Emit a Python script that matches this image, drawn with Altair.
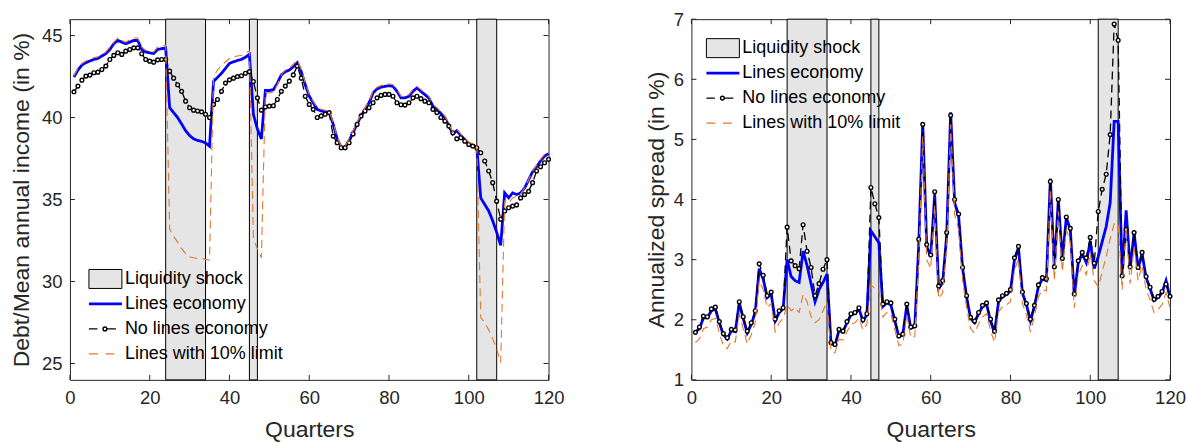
import altair as alt
import pandas as pd

# ---------------- data ----------------
quarters = list(range(1, 121))
shock_start = [24, 45, 102]
shock_end = [34, 47, 107]

debt_lines = [
    42.47, 42.90, 43.20, 43.35, 43.45, 43.55, 43.60, 43.75, 43.90, 44.15,
    44.50, 44.70, 44.60, 44.50, 44.60, 44.70, 44.70, 44.15, 44.00, 43.95,
    43.90, 44.15, 44.20, 44.25, 40.60, 40.30, 40.00, 39.60, 39.20, 38.90,
    38.70, 38.60, 38.55, 38.45, 38.25, 42.20, 42.45, 42.70, 43.00, 43.30,
    43.40, 43.48, 43.55, 43.68, 43.85, 40.20, 39.30, 38.70, 41.65, 41.65,
    41.70, 42.10, 42.60, 42.80, 42.90, 43.10, 43.35, 42.80, 42.00, 41.30,
    40.90, 40.50, 40.40, 40.35, 40.30, 39.60, 38.70, 38.20, 38.20, 38.60,
    39.10, 39.60, 40.10, 40.50, 40.90, 41.50, 41.75, 41.85, 41.90, 41.95,
    41.90, 41.60, 41.20, 41.20, 41.30, 41.60, 41.80, 41.60, 41.40, 41.20,
    40.70, 40.50, 40.25, 40.00, 39.50, 39.00, 39.20, 38.90, 38.65, 38.40,
    38.30, 38.20, 35.10, 34.70, 34.30, 33.70, 33.00, 32.20, 35.40, 35.10,
    35.40, 35.30, 35.40, 35.70, 36.20, 36.70, 37.00, 37.35, 37.65, 37.80,
]
debt_nolines = [
    41.57, 41.92, 42.28, 42.53, 42.59, 42.73, 42.77, 42.93, 43.14, 43.54,
    43.79, 43.95, 43.85, 44.05, 44.15, 44.25, 44.25, 43.89, 43.54, 43.44,
    43.38, 43.52, 43.54, 43.55, 42.83, 42.40, 42.00, 41.60, 41.00, 40.60,
    40.45, 40.40, 40.35, 40.20, 40.00, 40.80, 41.10, 41.60, 42.10, 42.30,
    42.40, 42.50, 42.55, 42.70, 42.80, 42.20, 41.20, 40.45, 40.65, 40.70,
    40.72, 41.10, 41.60, 41.92, 42.22, 42.60, 43.14, 42.40, 41.30, 40.80,
    40.50, 40.00, 40.10, 40.20, 40.30, 38.87, 38.46, 38.16, 38.16, 38.46,
    39.00, 39.58, 40.10, 40.40, 40.60, 40.90, 41.20, 41.35, 41.41, 41.41,
    41.30, 40.90, 40.78, 40.76, 40.90, 41.20, 41.30, 41.15, 41.00, 40.90,
    40.50, 40.30, 40.00, 39.78, 39.48, 39.07, 38.70, 38.77, 38.56, 38.36,
    38.26, 38.16, 37.85, 37.35, 36.74, 36.03, 34.90, 33.80, 34.30, 34.50,
    34.60, 34.67, 35.10, 35.30, 35.50, 36.03, 36.74, 37.00, 37.24, 37.45,
]
debt_limit = [
    42.55, 43.00, 43.30, 43.45, 43.55, 43.65, 43.70, 43.85, 44.00, 44.30,
    44.60, 44.85, 44.70, 44.60, 44.75, 44.85, 44.85, 44.30, 44.10, 44.05,
    44.00, 44.30, 44.35, 44.40, 33.20, 32.75, 32.40, 32.00, 31.70, 31.50,
    31.45, 31.40, 31.40, 31.35, 31.30, 42.50, 42.90, 43.20, 43.40, 43.60,
    43.70, 43.75, 43.80, 43.95, 44.05, 32.60, 32.00, 31.45, 41.55, 41.50,
    41.55, 42.00, 42.60, 42.90, 43.00, 43.25, 43.50, 42.95, 42.10, 41.40,
    41.00, 40.60, 40.50, 40.45, 40.40, 39.70, 38.80, 38.25, 38.25, 38.70,
    39.20, 39.70, 40.20, 40.60, 41.00, 41.60, 41.85, 41.95, 42.00, 42.05,
    42.00, 41.70, 41.30, 41.30, 41.40, 41.70, 41.90, 41.70, 41.50, 41.30,
    40.80, 40.60, 40.35, 40.10, 39.60, 39.10, 39.30, 39.00, 38.75, 38.50,
    38.40, 38.30, 27.80, 27.50, 27.05, 26.50, 25.90, 25.05, 34.90, 34.80,
    35.10, 35.20, 35.35, 35.70, 36.20, 36.75, 37.10, 37.45, 37.75, 37.90,
]

spread_lines = [
    1.80, 1.85, 2.03, 2.03, 2.15, 2.18, 1.95, 1.75, 1.68, 1.82,
    1.80, 2.28, 2.02, 1.78, 1.92, 2.12, 2.85, 2.68, 2.37, 2.43,
    1.98, 2.12, 2.18, 3.00, 2.72, 2.65, 2.62, 3.14, 2.90, 2.60,
    2.30, 2.50, 2.62, 2.76, 1.60, 1.58, 1.82, 1.80, 1.95, 2.08,
    2.10, 2.18, 1.98, 2.08, 3.48, 3.38, 3.28, 2.22, 2.28, 2.25,
    1.98, 1.72, 1.75, 2.24, 1.86, 1.88, 3.25, 5.28, 3.22, 3.05,
    4.08, 2.52, 2.62, 3.40, 5.45, 3.95, 3.72, 2.85, 2.38, 2.02,
    1.95, 2.10, 2.22, 2.26, 1.98, 1.78, 2.30, 2.38, 2.42, 2.48,
    3.00, 3.20, 2.44, 2.25, 1.98, 2.22, 2.55, 2.68, 2.65, 4.35,
    2.85, 4.00, 3.00, 3.70, 3.50, 2.40, 2.95, 3.10, 2.95, 3.30,
    2.85, 3.05, 3.30, 3.55, 3.95, 5.30, 5.30, 2.70, 3.82, 2.85,
    3.45, 2.85, 3.10, 2.70, 2.52, 2.32, 2.37, 2.45, 2.65, 2.37,
]
spread_nolines = [
    1.79, 1.88, 2.06, 2.05, 2.18, 2.21, 1.97, 1.77, 1.70, 1.84,
    1.83, 2.30, 2.05, 1.81, 1.95, 2.15, 2.93, 2.74, 2.40, 2.46,
    2.01, 2.15, 2.20, 3.54, 2.98, 2.90, 2.85, 3.58, 3.14, 2.87,
    2.40, 2.60, 2.84, 3.00, 1.62, 1.59, 1.84, 1.81, 1.97, 2.10,
    2.12, 2.20, 2.00, 2.10, 4.20, 3.93, 3.70, 2.26, 2.30, 2.28,
    2.01, 1.73, 1.76, 2.26, 1.88, 1.90, 3.34, 5.25, 3.25, 3.08,
    4.13, 2.56, 2.65, 3.45, 5.40, 4.00, 3.76, 2.87, 2.40, 2.04,
    1.98, 2.12, 2.24, 2.28, 2.01, 1.81, 2.33, 2.40, 2.44, 2.50,
    3.03, 3.22, 2.46, 2.27, 2.01, 2.24, 2.58, 2.70, 2.68, 4.30,
    2.88, 4.00, 3.02, 3.71, 3.52, 2.43, 2.98, 3.12, 3.03, 3.37,
    2.94, 3.80, 4.17, 4.42, 5.08, 6.92, 6.65, 2.73, 3.50, 2.88,
    3.45, 2.87, 3.12, 2.72, 2.54, 2.34, 2.39, 2.47, 2.59, 2.39,
]
spread_limit = [
    1.62, 1.68, 1.85, 1.88, 2.00, 2.02, 1.78, 1.57, 1.52, 1.65,
    1.63, 2.10, 1.85, 1.60, 1.75, 1.95, 2.65, 2.50, 2.20, 2.27,
    1.80, 1.95, 2.02, 2.25, 2.15, 2.20, 2.12, 2.42, 2.30, 2.05,
    1.95, 2.00, 2.15, 2.30, 1.48, 1.45, 1.68, 1.66, 1.80, 1.93,
    1.95, 2.03, 1.83, 1.93, 2.58, 2.52, 2.50, 2.05, 2.12, 2.10,
    1.83, 1.57, 1.60, 2.08, 1.70, 1.72, 3.00, 5.05, 3.00, 2.85,
    3.90, 2.35, 2.45, 3.20, 5.25, 3.75, 3.50, 2.65, 2.20, 1.85,
    1.78, 1.93, 2.05, 2.10, 1.82, 1.62, 2.13, 2.22, 2.25, 2.30,
    2.82, 3.02, 2.27, 2.08, 1.80, 2.05, 2.38, 2.50, 2.48, 4.15,
    2.65, 3.80, 2.80, 3.50, 3.30, 2.20, 2.75, 2.90, 2.75, 3.10,
    2.65, 2.55, 2.80, 3.05, 3.35, 3.60, 3.60, 2.50, 3.55, 2.60,
    3.20, 2.65, 2.90, 2.50, 2.33, 2.12, 2.17, 2.25, 2.45, 2.20,
]

x_ticks = [0, 20, 40, 60, 80, 100, 120]
debt_ticks = [25, 30, 35, 40, 45]
spread_ticks = [1, 2, 3, 4, 5, 6, 7]

legend_labels = ["Liquidity shock", "Lines economy", "No lines economy", "Lines with 10% limit"]

# ---------------- style ----------------
W, H = 479, 361
FONT = "Liberation Sans"
AX = "#262626"
BLUE = "#0000ff"
ORANGE = "#e8772e"
SHADE = "#e5e5e5"
TICK = 18.5
TITLE = 23
DASH = [8, 5]


def panel(lines, nolines, limit, ydom, yticks, ytitle, lg_x, lg_y, title_pad):
    df = pd.DataFrame({"q": quarters, "lines": lines, "nolines": nolines, "limit": limit})
    shocks = pd.DataFrame({"s": shock_start, "e": shock_end})
    xs = alt.Scale(domain=[0, 120], nice=False, zero=False, padding=0)
    ys = alt.Scale(domain=ydom, nice=False, zero=False, padding=0)
    xaxis = alt.Axis(values=x_ticks, title="Quarters", labelPadding=9, titlePadding=11,
                     format="d", labelFlush=False, labelOverlap=False)
    yaxis = alt.Axis(values=yticks, title=ytitle, labelPadding=8, titlePadding=title_pad,
                     format="d", labelFlush=False, labelOverlap=False)

    rect = alt.Chart(shocks).mark_rect(fill=SHADE, stroke="black", strokeWidth=1).encode(
        x=alt.X("s:Q", scale=xs, axis=xaxis), x2="e:Q", y=alt.value(0), y2=alt.value(H)
    )
    base = alt.Chart(df).encode(x=alt.X("q:Q", scale=xs, axis=xaxis))
    blue = base.mark_line(color=BLUE, strokeWidth=2.8).encode(
        y=alt.Y("lines:Q", scale=ys, axis=yaxis))
    black = base.mark_line(color="black", strokeWidth=1.3, strokeDash=DASH).encode(
        y=alt.Y("nolines:Q", scale=ys, axis=yaxis))
    dots = base.mark_point(shape="circle", filled=True, fill="white", stroke="black",
                           strokeWidth=1.4, size=14, opacity=1).encode(
        y=alt.Y("nolines:Q", scale=ys, axis=yaxis))
    orange = base.mark_line(color=ORANGE, strokeWidth=1.1, strokeDash=DASH).encode(
        y=alt.Y("limit:Q", scale=ys, axis=yaxis))

    # inward ticks (MATLAB box style)
    xt = alt.Chart(pd.DataFrame({"t": x_ticks}))
    yt = alt.Chart(pd.DataFrame({"t": yticks}))
    xb = xt.mark_rule(color=AX).encode(x=alt.X("t:Q", scale=xs, axis=xaxis), y=alt.value(H), y2=alt.value(H - 5))
    xtp = xt.mark_rule(color=AX).encode(x=alt.X("t:Q", scale=xs, axis=xaxis), y=alt.value(0), y2=alt.value(5))
    yl = yt.mark_rule(color=AX).encode(y=alt.Y("t:Q", scale=ys, axis=yaxis), x=alt.value(0), x2=alt.value(5))
    yr = yt.mark_rule(color=AX).encode(y=alt.Y("t:Q", scale=ys, axis=yaxis), x=alt.value(W), x2=alt.value(W - 5))

    # legend
    one = alt.Chart(pd.DataFrame({"k": [0]}))
    row = 25
    sym0, sym1 = lg_x, lg_x + 33
    lg = [
        one.mark_rect(fill=SHADE, stroke="black", strokeWidth=1).encode(
            x=alt.value(sym0), x2=alt.value(sym1), y=alt.value(lg_y - 9.5), y2=alt.value(lg_y + 9.5)),
        one.mark_rule(color=BLUE, strokeWidth=2.8).encode(
            x=alt.value(sym0), x2=alt.value(sym1), y=alt.value(lg_y + row)),
        one.mark_rule(color="black", strokeWidth=1.3, strokeDash=[8.5, 6, 12.5, 6]).encode(
            x=alt.value(sym0), x2=alt.value(sym0 + 27), y=alt.value(lg_y + 2 * row)),
        one.mark_point(shape="circle", filled=True, fill="white", stroke="black", strokeWidth=1.4,
                       size=14, opacity=1).encode(x=alt.value(sym0 + 16), y=alt.value(lg_y + 2 * row)),
        one.mark_rule(color=ORANGE, strokeWidth=1.1, strokeDash=[9, 7.5]).encode(
            x=alt.value(sym0), x2=alt.value(sym0 + 27), y=alt.value(lg_y + 3 * row)),
    ]
    for i, lab in enumerate(legend_labels):
        lg.append(one.mark_text(text=lab, align="left", baseline="middle", font=FONT,
                                fontSize=18, color="black").encode(
            x=alt.value(sym1 + 3), y=alt.value(lg_y + i * row)))

    return alt.layer(rect, blue, black, dots, orange, xb, xtp, yl, yr, *lg).properties(width=W, height=H)


left = panel(debt_lines, debt_nolines, debt_limit, [24, 46], debt_ticks,
             "Debt/Mean annual income (in %)", 19, 260, 8)
right = panel(spread_lines, spread_nolines, spread_limit, [1, 7], spread_ticks,
              "Annualized spread (in %)", 15, 29, 5)

chart = alt.hconcat(left, right, spacing=80).properties(
    padding={"left": 9, "top": 9, "right": 0, "bottom": 0}
).configure_view(stroke=AX, strokeWidth=1).configure_axis(
    domain=False, ticks=False, grid=False,
    labelFont=FONT, labelFontSize=TICK, labelColor=AX,
    titleFont=FONT, titleFontSize=TITLE, titleFontWeight="normal", titleColor=AX,
).configure_text(font=FONT)

chart.save("out.html", embed_options={"renderer": "svg", "actions": False})
